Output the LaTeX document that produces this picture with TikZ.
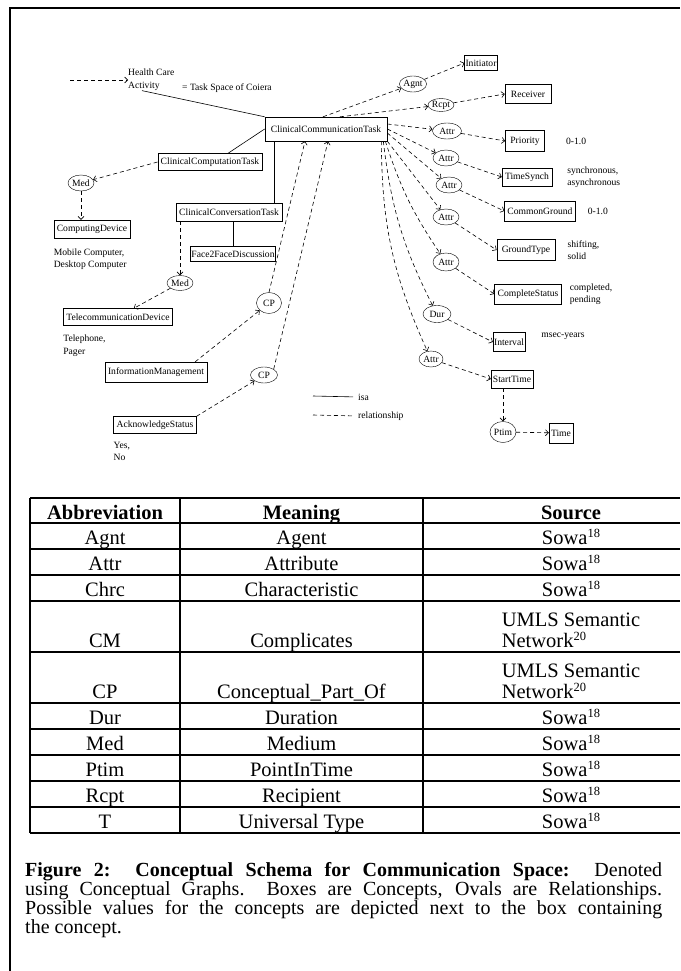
\documentclass[tikz,border=0pt]{standalone}
\usepackage{fontspec}
\setmainfont{Liberation Serif}
\usepackage{tikz}
\usetikzlibrary{arrows.meta,positioning,shapes.geometric,calc}

\newcommand{\diagfont}{\fontsize{9.6}{12.5}\selectfont}
\newcommand{\tabfont}{\fontsize{20.5}{17}\selectfont}
\newcommand{\capfont}{\fontsize{20}{19}\selectfont}
\newcommand{\refnum}[1]{\raisebox{6.5pt}{\fontsize{12.5}{12.5}\selectfont #1}}

\begin{document}
\begin{tikzpicture}[x=1pt, y=-1pt,
    concept/.style={rectangle, draw, inner xsep=3pt, inner ysep=0pt, minimum height=18pt, font=\diagfont},
    relation/.style={ellipse, draw, inner sep=0pt, minimum width=26pt, minimum height=16pt, font=\diagfont},
    note/.style={align=left, inner sep=0pt, font=\diagfont},
    isa/.style={semithick},
    rel/.style={-{Straight Barb[length=3pt,width=6pt]}, dash pattern=on 4pt off 3pt, semithick},
    cell/.style={inner sep=0pt, font=\tabfont, anchor=base},
    grid/.style={line width=1.5pt}
  ]
  \useasboundingbox (0,0) rectangle (680,971);
  \draw[line width=2pt] (10,971) -- (10,8) -- (680,8);

  % concepts, left side
  \coordinate (hstart) at (70,80);
  \node[note, anchor=north west] (hca) at (128,69) {Health Care\\Activity};
  \node[note, anchor=west] (coiera) at (182,88) {= Task Space of Coiera};
  \node[concept, minimum height=24pt, inner xsep=6pt] (cct) at (326,129) {ClinicalCommunicationTask};
  \node[concept, minimum height=17pt] (comp) at (210,162) {ClinicalComputationTask};
  \node[relation] (med1) at (81,183) {Med};
  \node[concept] (cdev) at (92,229) {ComputingDevice};
  \node[note, below=10pt of cdev.south west, anchor=north west] (cdevnote) {Mobile Computer,\\Desktop Computer};
  \node[concept] (conv) at (229,212) {ClinicalConversationTask};
  \node[concept, minimum height=15pt, inner xsep=1pt] (f2f) at (233,254) {Face2FaceDiscussion};
  \node[relation, minimum height=15pt] (med2) at (180,283) {Med};
  \node[concept, minimum height=17pt] (tdev) at (118,317) {TelecommunicationDevice};
  \node[note, below=9pt of tdev.south west, anchor=north west] (tdevnote) {Telephone,\\Pager};
  \node[concept, minimum height=20pt] (info) at (156,372) {InformationManagement};
  \node[relation, minimum width=25pt, minimum height=21pt] (cp1) at (269,303) {CP};
  \node[relation, minimum width=27pt] (cp2) at (264,375) {CP};
  \node[concept, minimum height=17pt] (ack) at (155,425) {AcknowledgeStatus};
  \node[note, below=8pt of ack.south west, anchor=north west] (acknote) {Yes,\\No};

  % concepts, right side
  \node[concept, minimum height=15pt, inner xsep=1pt] (init) at (481,63) {Initiator};
  \node[relation] (agnt) at (413,84) {Agnt};
  \node[relation, minimum height=13pt] (rcpt) at (441,105) {Rcpt};
  \node[concept, minimum height=19pt, inner xsep=6pt] (recv) at (528,94) {Receiver};
  \node[relation, minimum width=29pt] (attr1) at (447,131) {Attr};
  \node[concept, minimum height=21pt, inner xsep=5pt] (prio) at (525,141) {Priority};
  \node[note, right=21pt of prio] (prionote) {0-1.0};
  \node[relation] (attr2) at (446,158) {Attr};
  \node[concept] (tsync) at (527,177) {TimeSynch};
  \node[note, right=15pt of tsync] (tsyncnote) {synchronous,\\asynchronous};
  \node[relation] (attr3) at (449,185) {Attr};
  \node[concept, minimum height=20pt] (cg) at (540,211) {CommonGround};
  \node[note, right=12pt of cg] (cgnote) {0-1.0};
  \node[relation] (attr4) at (446,217) {Attr};
  \node[concept, minimum height=21pt, inner xsep=5pt] (gt) at (526,250) {GroundType};
  \node[note, right=12pt of gt] (gtnote) {shifting,\\solid};
  \node[relation, minimum height=18pt] (attr5) at (446,262) {Attr};
  \node[concept, minimum height=20pt] (cs) at (528,294) {CompleteStatus};
  \node[note, right=8pt of cs] (csnote) {completed,\\pending};
  \node[relation, minimum width=28pt, minimum height=17pt] (dur) at (437,314) {Dur};
  \node[concept, minimum height=19pt, inner xsep=1pt] (intv) at (509,342) {Interval};
  \node[note, right=16pt of intv.north east, anchor=north west] (intvnote) {msec-years};
  \node[relation, minimum width=24pt] (attr6) at (431,359) {Attr};
  \node[concept, inner xsep=2pt] (st) at (512,379) {StartTime};
  \node[relation, minimum height=21pt] (ptim) at (503,432) {Ptim};
  \node[concept, minimum height=20pt, inner xsep=2pt] (time) at (561,433) {Time};

  % legend
  \coordinate (isastart) at (313,396);
  \node[note, anchor=west] (isalbl) at (358,397) {isa};
  \coordinate (relstart) at (313,415);
  \node[note, anchor=west] (rellbl) at (358,416) {relationship};
  \draw[isa, shorten >=5pt] (isastart) -- (isalbl.west);
  \draw[dash pattern=on 4pt off 3pt, semithick, shorten >=5pt] (relstart) -- (rellbl.west);

  % isa links
  \coordinate (cctfoot) at ([xshift=10pt]cct.south west);
  \draw[isa] ([xshift=14pt]hca.south west) -- (cct.north west);
  \draw[isa] ([xshift=18pt]comp.north) -- (cct.west);
  \draw[isa] (cctfoot) -- (cctfoot |- conv.north);
  \draw[isa] (conv.south -| f2f.north) -- (f2f.north);

  % relationships
  \draw[rel] (hstart) -- (hca.west |- hstart);
  \draw[rel] (comp.west) -- (med1);
  \draw[rel] (med1.south) -- (med1.south |- cdev.north);
  \draw[rel] (conv.south -| med2.north) -- (med2.north);
  \draw[rel] (med2) -- (tdev);
  \draw[rel] ([xshift=-12pt]info.north east) -- (cp1);
  \draw[rel] (ack.north east) -- (cp2);
  \draw[rel] (cp1.north) -- ([xshift=-21pt]cct.south);
  \draw[rel] (cp2.north east) -- ([xshift=2pt]cct.south);
  \draw[rel] ([xshift=-3pt]cct.north) -- (agnt);
  \draw[rel] (agnt) -- (init.west);
  \draw[rel] ([xshift=14pt]cct.north) -- (rcpt);
  \draw[rel] (rcpt) -- (recv.west);
  \draw[rel] ([yshift=5pt]cct.east) -- (attr1);
  \draw[rel] (attr1) -- (prio.west);
  \draw[rel] (cct.east) -- (attr2);
  \draw[rel] (attr2) -- (tsync.west);
  \draw[rel] ([yshift=-4pt]cct.east) -- (attr3);
  \draw[rel] (attr3) -- (cg.west);
  \draw[rel] (cct.south east) -- (attr4);
  \draw[rel] (attr4) -- (gt.west);
  \draw[rel] ([xshift=-2pt]cct.south east) to[bend right=8] (attr5);
  \draw[rel] (attr5) -- (cs.west);
  \draw[rel] ([xshift=-4pt]cct.south east) to[bend right=10] (dur);
  \draw[rel] (dur) -- (intv.west);
  \draw[rel] ([xshift=-6pt]cct.south east) to[bend right=12] (attr6);
  \draw[rel] (attr6) -- (st.west);
  \draw[rel] (st.south -| ptim.north) -- (ptim.north);
  \draw[rel] (ptim) -- (time);

  % table of abbreviations (cut off at the right)
  \foreach \y in {498,523,549,575,601,652,703,729,755,781,807,833}
    \draw[grid] (30,\y) -- (680,\y);
  \foreach \x in {30,180,423}
    \draw[grid] (\x,498) -- (\x,833);
  \node[cell] (hab) at (105,519) {\bfseries Abbreviation};
  \node[cell] (hme) at (301.5,519) {\bfseries Meaning};
  \node[cell] (hso) at (571,519) {\bfseries Source};
  \foreach \ab/\me/\yb in {Agnt/Agent/544, Attr/Attribute/570, Chrc/Characteristic/596,
      CM/Complicates/647, CP/Conceptual\_Part\_Of/698, Dur/Duration/724, Med/Medium/750,
      Ptim/PointInTime/776, Rcpt/Recipient/802, T/Universal Type/828} {
    \node[cell] at (105,\yb) {\ab};
    \node[cell] at (301.5,\yb) {\me};
  }
  \foreach \yb in {544,570,596,724,750,776,802,828}
    \node[cell] at (571,\yb) {Sowa\refnum{18}};
  \foreach \yb in {647,698} {
    \node[cell] (umls) at (571,\yb-21) {UMLS Semantic};
    \node[cell, anchor=base west] at (umls.base west |- 0,\yb) {Network\refnum{20}};
  }

  % caption
  \node[anchor=north west, text width=637pt, align=justify, inner sep=0pt, font=\capfont] (caption) at (25,862)
    {\textbf{Figure 2:\ \ Conceptual Schema for Communication Space:}\ \ Denoted\linebreak
     using Conceptual Graphs.\ \ Boxes are Concepts, Ovals are Relationships.\linebreak
     Possible values for the concepts are depicted next to the box containing\linebreak
     the concept.};
\end{tikzpicture}
\end{document}
